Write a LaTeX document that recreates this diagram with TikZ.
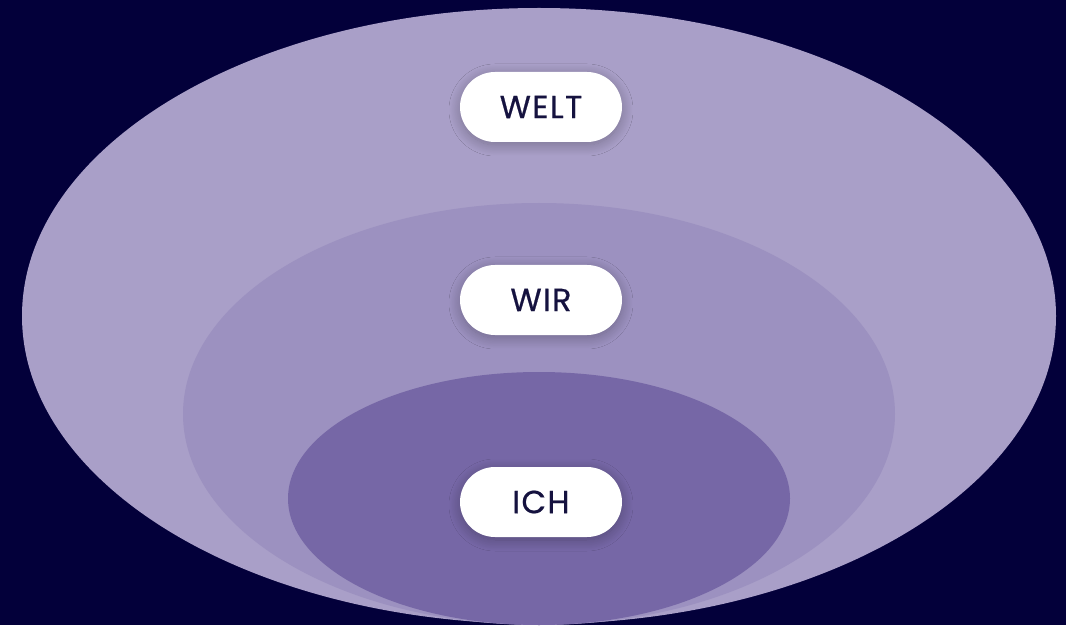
\documentclass[tikz,border=0pt]{standalone}
\usepackage{fontspec}
\setmainfont{Poppins}[LetterSpace=4, FakeBold=0.6]
\usetikzlibrary{shadows.blur}
\definecolor{bgnavy}{HTML}{03003A}
\definecolor{ringouter}{HTML}{A99FC8}
\definecolor{ringmid}{HTML}{9C91C0}
\definecolor{ringinner}{HTML}{7667A6}
\definecolor{labeltext}{HTML}{15123F}
\tikzset{
  pill/.style={fill=white, rounded corners=35pt, minimum width=162pt, minimum height=70pt,
    inner sep=0pt, text=labeltext, font=\fontsize{32}{38}\selectfont,
    blur shadow={shadow xshift=0pt, shadow yshift=-3pt, shadow blur radius=11pt, shadow opacity=28, shadow blur steps=20}}
}
\begin{document}
\begin{tikzpicture}[x=1pt, y=1pt]
  \fill[bgnavy] (0,0) rectangle (1066,625);
  \useasboundingbox (0,0) rectangle (1066,625);
  % nested circles of belonging, all resting on the bottom edge
  \fill[ringouter] (539,309) ellipse [x radius=517, y radius=308];
  \fill[ringmid]   (539,211) ellipse [x radius=356, y radius=211];
  \fill[ringinner] (539,126.5) ellipse [x radius=251, y radius=126.5];
  % labels
  \node[pill] (welt) at (541,518) {WELT};
  \node[pill] (wir)  at (541,325) {WIR};
  \node[pill] (ich)  at (541,123) {ICH};
\end{tikzpicture}
\end{document}
